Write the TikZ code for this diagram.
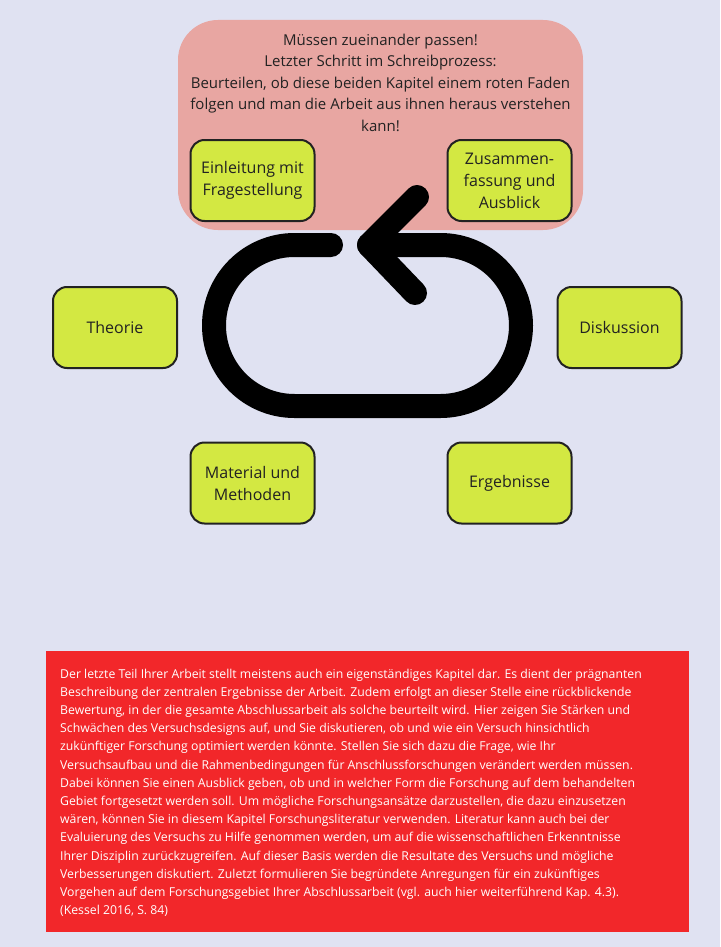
\documentclass[tikz,border=0pt]{standalone}
\usepackage{fontspec}
\setmainfont{Open Sans}
\usetikzlibrary{shapes.geometric, arrows}
\definecolor{bgcol}{HTML}{E0E2F2}
\definecolor{pinkcol}{HTML}{E8A6A2}
\definecolor{limecol}{HTML}{D3E842}
\definecolor{redcol}{HTML}{F2272A}
\definecolor{inkcol}{HTML}{222222}
\tikzstyle{chapter} = [rectangle, rounded corners=14pt, minimum width=124pt, minimum height=81pt, align=center, draw=inkcol, line width=2pt, fill=limecol, text=inkcol, font=\fontsize{16}{22}\selectfont]
\tikzstyle{hintbox} = [rectangle, rounded corners=40pt, minimum width=405pt, minimum height=210pt, fill=pinkcol]
\tikzstyle{hinttext} = [align=center, inner sep=0pt, text=inkcol, font=\fontsize{15}{21.6}\selectfont]
\tikzstyle{infobox} = [rectangle, minimum width=643pt, minimum height=281pt, fill=redcol]
\tikzstyle{infotext} = [align=left, inner sep=0pt, text=white, font=\fontsize{12.25}{18.2}\selectfont]
\tikzstyle{loop} = [line width=24pt, line cap=round, line join=round]

\begin{document}
\begin{tikzpicture}[x=1pt, y=-1pt]
    \useasboundingbox (0,0) rectangle (720,947);
    \fill [bgcol] (0,0) rectangle (720,947);
    \node [hintbox] at (380.5,125) (hint) {};
    \node [hinttext, anchor=north] at (380.5,33.5) (hintlines) {Müssen zueinander passen!\\Letzter Schritt im Schreibprozess:\\Beurteilen, ob diese beiden Kapitel einem roten Faden\\folgen und man die Arbeit aus ihnen heraus verstehen\\kann!};
    \node [chapter] at (252.5,180.5) (intro) {Einleitung mit\\Fragestellung};
    \node [chapter] at (509.5,180.5) (outlook) {Zusammen-\\fassung und\\Ausblick};
    \node [chapter] at (115,327.5) (theory) {Theorie};
    \node [chapter] at (619.5,327.5) (discussion) {Diskussion};
    \node [chapter] at (252.5,483) (methods) {Material und\\Methoden};
    \node [chapter] at (509.5,483) (results) {Ergebnisse};
    \draw [loop, rounded corners=80.5pt] (331,245) -- (214,245) -- (214,406) -- (521,406) -- (521,245) -- (369,245);
    \draw [loop] (417,197) -- (369,245) -- (415,293);
    \node [infobox] at (367.5,791.5) (summary) {};
    \node [infotext, anchor=north west] at (60,668.5) (summarylines) {Der letzte Teil Ihrer Arbeit stellt meistens auch ein eigenständiges Kapitel dar. Es dient der prägnanten\\Beschreibung der zentralen Ergebnisse der Arbeit. Zudem erfolgt an dieser Stelle eine rückblickende\\Bewertung, in der die gesamte Abschlussarbeit als solche beurteilt wird. Hier zeigen Sie Stärken und\\Schwächen des Versuchsdesigns auf, und Sie diskutieren, ob und wie ein Versuch hinsichtlich\\zukünftiger Forschung optimiert werden könnte. Stellen Sie sich dazu die Frage, wie Ihr\\Versuchsaufbau und die Rahmenbedingungen für Anschlussforschungen verändert werden müssen.\\Dabei können Sie einen Ausblick geben, ob und in welcher Form die Forschung auf dem behandelten\\Gebiet fortgesetzt werden soll. Um mögliche Forschungsansätze darzustellen, die dazu einzusetzen\\wären, können Sie in diesem Kapitel Forschungsliteratur verwenden. Literatur kann auch bei der\\Evaluierung des Versuchs zu Hilfe genommen werden, um auf die wissenschaftlichen Erkenntnisse\\Ihrer Disziplin zurückzugreifen. Auf dieser Basis werden die Resultate des Versuchs und mögliche\\Verbesserungen diskutiert. Zuletzt formulieren Sie begründete Anregungen für ein zukünftiges\\Vorgehen auf dem Forschungsgebiet Ihrer Abschlussarbeit (vgl. auch hier weiterführend Kap. 4.3).\\(Kessel 2016, S. 84)};
\end{tikzpicture}
\end{document}
